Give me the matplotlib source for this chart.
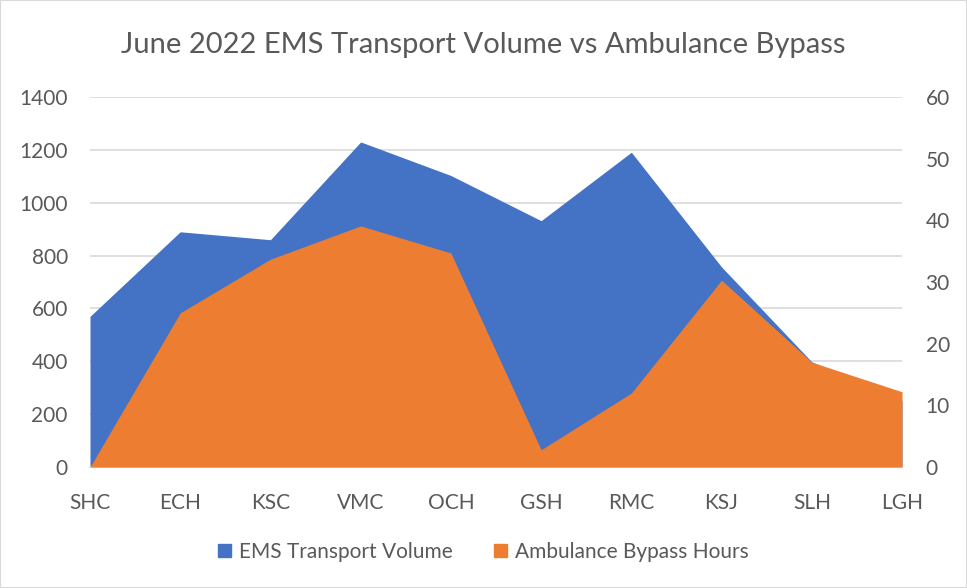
import matplotlib
matplotlib.use("Agg")
import matplotlib.pyplot as plt
from matplotlib.patches import Rectangle, Patch

categories = ["SHC", "ECH", "KSC", "VMC", "OCH", "GSH", "RMC", "KSJ", "SLH", "LGH"]
ems_volume = [570, 890, 860, 1230, 1103, 932, 1191, 757, 398, 250]
bypass_hours = [0, 25, 33.7, 39.1, 34.7, 2.8, 12, 30.3, 17, 12.2]

blue = "#4472C4"
orange = "#ED7D31"
grey_text = "#595959"
grid_c = "#D9D9D9"

plt.rcParams['font.family'] = ['Lato', 'DejaVu Sans']

fig = plt.figure(figsize=(9.67, 5.88), dpi=100)
ax = fig.add_axes([90/967, 1-467/588, (903-91)/967, (467-97)/588])
ax2 = ax.twinx()

x = list(range(len(categories)))
ax.fill_between(x, 0, ems_volume, color=blue, linewidth=0, zorder=2)
ax2.fill_between(x, 0, bypass_hours, color=orange, linewidth=0, zorder=2)

ax.set_xlim(0, len(categories) - 1)
ax.set_ylim(0, 1400)
ax2.set_ylim(0, 60)
ax.set_yticks(range(0, 1401, 200))
ax2.set_yticks(range(0, 61, 10))
ax.set_xticks(x)
ax.set_xticklabels(categories)

ax.grid(axis='y', color=grid_c, linewidth=1.2, zorder=0)
ax.set_axisbelow(True)
for a in (ax, ax2):
    for s in a.spines.values():
        s.set_visible(False)
    a.tick_params(length=0, labelsize=15, colors=grey_text)
ax.spines['bottom'].set_visible(True)
ax.spines['bottom'].set_color(grid_c)
ax.spines['bottom'].set_linewidth(1.2)
ax.tick_params(axis='y', pad=16)
ax2.tick_params(axis='y', pad=17)
ax.tick_params(axis='x', pad=19)

fig.text(0.5, 1-45/588, "June 2022 EMS Transport Volume vs Ambulance Bypass",
         ha='center', va='center', fontsize=21, color=grey_text)

handles = [Patch(color=blue, label="EMS Transport Volume"),
           Patch(color=orange, label="Ambulance Bypass Hours")]
leg = fig.legend(handles=handles, loc='center', bbox_to_anchor=(0.5, 1-552/588),
                 ncol=2, frameon=False, fontsize=15, handlelength=0.6, handleheight=0.6,
                 columnspacing=2.0, handletextpad=0.4)
for t in leg.get_texts():
    t.set_color(grey_text)

fig.patches.append(Rectangle((0, 0), 1, 1, transform=fig.transFigure, fill=False,
                             edgecolor=grid_c, linewidth=1.5))

fig.savefig("out.png", dpi=100)
